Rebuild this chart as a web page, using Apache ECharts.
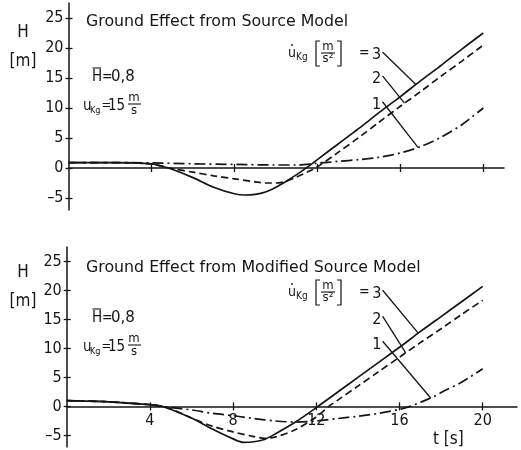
<!DOCTYPE html>
<html>
<head>
<meta charset="utf-8">
<script src="https://cdn.jsdelivr.net/npm/echarts@6/dist/echarts.min.js"></script>
<style>
  html, body { margin: 0; padding: 0; background: #fff; }
  #c { width: 521px; height: 450px; }
</style>
</head>
<body>
<div id="c"></div>
<script>
// Flight height H [m] over time t [s] for three values of the accelerating gust rate (1, 2, 3 m/s²)

const hTicks = [-5, 0, 5, 10, 15, 20, 25];
const tTicks = [4, 8, 12, 16, 20];
const hMin = -7, hMax = 27.5;

// Upper panel: source model
const top3T = [0, 2, 4, 4.6, 5, 6, 7, 8, 8.5, 9, 9.5, 10, 10.5, 11, 11.5, 12, 13, 14, 15, 16, 17, 18, 19, 20];
const top3H = [0.9, 0.9, 0.7, 0.2, -0.2, -1.6, -3.2, -4.3, -4.5, -4.4, -4.0, -3.2, -2.2, -1.1, 0.1, 1.4, 4.0, 6.6, 9.3, 11.9, 14.6, 17.2, 19.9, 22.5];
const top2T = [0, 2, 4, 4.6, 5, 6, 7, 8, 9, 9.5, 10, 10.5, 11, 11.5, 12, 13, 14, 15, 16, 17, 18, 19, 20];
const top2H = [0.9, 0.9, 0.7, 0.2, -0.1, -0.7, -1.3, -1.8, -2.3, -2.5, -2.5, -2.2, -1.5, -0.7, 0.2, 2.6, 5.1, 7.7, 10.3, 12.8, 15.4, 17.9, 20.5];
const top1T = [0, 2, 4, 6, 8, 10, 11, 12, 13, 14, 15, 16, 17, 18, 19, 20];
const top1H = [0.9, 0.9, 0.85, 0.7, 0.6, 0.5, 0.5, 0.8, 1.1, 1.4, 1.8, 2.5, 3.6, 5.2, 7.3, 10.0];

// Lower panel: modified source model
const bot3T = [0, 2, 4, 4.6, 5, 6, 7, 8, 8.5, 9, 9.5, 10, 11, 12, 13, 14, 15, 16, 17, 18, 19, 20];
const bot3H = [1.0, 0.8, 0.3, 0, -0.5, -2.0, -3.9, -5.6, -6.2, -6.1, -5.7, -4.8, -2.7, -0.2, 2.4, 5.0, 7.6, 10.2, 12.9, 15.5, 18.1, 20.7];
const bot2T = [0, 2, 4, 4.6, 5, 6, 7, 8, 9, 9.5, 10, 11, 12, 12.6, 13, 14, 15, 16, 17, 18, 19, 20];
const bot2H = [1.0, 0.8, 0.3, 0, -0.4, -2.0, -3.4, -4.4, -5.2, -5.5, -5.3, -4.0, -1.8, 0, 1.0, 3.5, 6.0, 8.5, 11.0, 13.4, 15.9, 18.3];
const bot1T = [0, 2, 4, 4.6, 5, 6, 7, 8, 9, 10, 11, 12, 13, 14, 15, 16, 16.5, 17, 17.6, 18, 19, 20];
const bot1H = [1.0, 0.8, 0.3, 0, -0.2, -0.6, -1.2, -1.6, -2.1, -2.5, -2.7, -2.5, -2.1, -1.7, -1.2, -0.5, 0, 0.7, 1.6, 2.4, 4.2, 6.5];

// Curve labels 3, 2, 1: where each leader starts, and the time where it meets its curve
const curveNames = ['3', '2', '1'];
const topLeadFrom = [[15.15, 19.3], [15.15, 15.3], [15.15, 11.0]];
const topLeadToT = [16.75, 16.2, 16.85];
const botLeadFrom = [[15.2, 20.0], [15.2, 15.5], [15.2, 11.2]];
const botLeadToT = [16.9, 16.3, 17.5];

const FONT = '"DejaVu Sans Condensed", "DejaVu Sans", sans-serif';
const WIDE = '"DejaVu Sans", sans-serif';
const INK = '#151515';

const pairs = (t, h) => t.map((v, i) => [v, h[i]]);
function interp(t, h, x) {
  for (let i = 1; i < t.length; i++) {
    if (x <= t[i]) {
      const f = (x - t[i - 1]) / (t[i] - t[i - 1]);
      return h[i - 1] + f * (h[i] - h[i - 1]);
    }
  }
  return h[h.length - 1];
}

const dashStyles = ['solid', [7, 4], [11, 4, 2, 4]];

function curve(t, h, k, ax) {
  return {
    type: 'line', xAxisIndex: ax, yAxisIndex: ax, data: pairs(t, h),
    showSymbol: false, smooth: 0.3, silent: true,
    lineStyle: { color: INK, width: 1.7, type: dashStyles[k] }
  };
}
function leaders(from, toT, curves, ax) {
  const out = [];
  from.forEach((p, k) => {
    const c = curves[k];
    out.push({
      type: 'line', xAxisIndex: ax, yAxisIndex: ax, silent: true,
      data: [p, [toT[k], interp(c[0], c[1], toT[k])]],
      showSymbol: false, lineStyle: { color: INK, width: 1.3 }
    });
  });
  out.push({
    type: 'scatter', xAxisIndex: ax, yAxisIndex: ax, silent: true,
    symbolSize: 1, itemStyle: { color: INK, opacity: 1 },
    data: from.map((p, k) => ({ value: p, name: curveNames[k] })),
    label: { show: true, position: 'left', distance: 1, offset: [0, 3], formatter: '{b}',
             color: INK, opacity: 1, fontFamily: FONT, fontSize: 16 }
  });
  return out;
}

// The time axis sits on H = 0: shift it up from the grid bottom by the height of the negative range
function xAxes(grid, max, gridHeight, showLabels) {
  const lift = -gridHeight * (0 - hMin) / (hMax - hMin);
  const base = {
    type: 'value', gridIndex: grid, min: 0, max: max, position: 'bottom', offset: lift,
    splitLine: { show: false }
  };
  return [
    Object.assign({}, base, {
      axisLine: { onZero: false, lineStyle: { color: INK, width: 1.5 } },
      axisTick: { show: true, customValues: tTicks, length: 4, lineStyle: { color: INK, width: 1.3 } },
      axisLabel: showLabels
        ? { customValues: tTicks, color: INK, fontFamily: FONT, fontSize: 16, margin: 6 }
        : { show: false }
    }),
    Object.assign({}, base, {
      axisLine: { show: false, onZero: false },
      axisTick: { show: true, inside: true, customValues: tTicks, length: 4, lineStyle: { color: INK, width: 1.3 } },
      axisLabel: { show: false }
    })
  ];
}
function yAxes(grid) {
  const base = {
    type: 'value', gridIndex: grid, position: 'left', min: hMin, max: hMax,
    splitLine: { show: false }
  };
  return [
    Object.assign({}, base, {
      axisLine: { show: true, onZero: false, lineStyle: { color: INK, width: 1.5 } },
      axisTick: { show: true, customValues: hTicks, length: 3, lineStyle: { color: INK, width: 1.3 } },
      axisLabel: { customValues: hTicks, color: INK, fontFamily: FONT, fontSize: 16, margin: 5,
                   formatter: v => (v < 0 ? '\u2013' + Math.abs(v) : String(v)) }
    }),
    Object.assign({}, base, {
      axisLine: { show: false, onZero: false },
      axisTick: { show: true, inside: true, customValues: hTicks, length: 4, lineStyle: { color: INK, width: 1.3 } },
      axisLabel: { show: false }
    })
  ];
}

// Text blocks around each panel
function txt(x, y, text, size, extra) {
  return {
    type: 'text', x: x, y: y, silent: true,
    style: Object.assign({ text: text, fill: INK, fontFamily: FONT, fontSize: size,
                           align: 'left', verticalAlign: 'middle' }, extra || {})
  };
}
function seg(x1, y1, x2, y2, w) {
  return { type: 'line', silent: true, shape: { x1, y1, x2, y2 },
           style: { stroke: INK, lineWidth: w || 1.2 } };
}
function poly(points) {
  return { type: 'polyline', silent: true, shape: { points },
           style: { stroke: INK, lineWidth: 1.2, fill: null } };
}
function panelText(title, yTitle, yLab, yHbar, yU, yRate) {
  return [
    txt(23, yLab, 'H', 17, { align: 'center' }),
    txt(23, yLab + 29, '[m]', 17, { align: 'center' }),
    txt(86, yTitle, title, 15.8, { fontFamily: WIDE }),
    // H-bar = 0,8
    txt(92, yHbar, 'H', 15),
    seg(92.5, yHbar - 9, 101, yHbar - 9, 1.1),
    txt(102, yHbar, '=', 14),
    txt(111, yHbar, '0,8', 15, { fontFamily: WIDE }),
    // u_Kg = 15 m/s
    txt(83, yU, 'u', 15),
    txt(90, yU + 5, 'Kg', 9),
    txt(101.5, yU, '=', 13),
    txt(108, yU, '15', 15),
    txt(134, yU - 8, 'm', 13, { align: 'center' }),
    seg(128, yU - 2, 141, yU - 2, 1.1),
    txt(134, yU + 5, 's', 13, { align: 'center' }),
    // u-dot_Kg [m/s²] =
    txt(288, yRate, 'u', 14),
    { type: 'circle', silent: true, shape: { cx: 292, cy: yRate - 8, r: 0.9 }, style: { fill: INK } },
    txt(296, yRate + 4, 'Kg', 10),
    poly([[320, yRate - 12], [316, yRate - 12], [316, yRate + 13], [320, yRate + 13]]),
    txt(328, yRate - 6, 'm', 13, { align: 'center' }),
    seg(321, yRate, 335, yRate, 1.1),
    txt(328, yRate + 6, 's\u00B2', 13, { align: 'center' }),
    poly([[337, yRate - 12], [341, yRate - 12], [341, yRate + 13], [337, yRate + 13]]),
    txt(359, yRate, '=', 14)
  ];
}

const chart = echarts.init(document.getElementById('c'), null, { renderer: 'canvas' });

const topCurves = [[top3T, top3H], [top2T, top2H], [top1T, top1H]];
const botCurves = [[bot3T, bot3H], [bot2T, bot2H], [bot1T, bot1H]];

const topGrid = { left: 68.5, top: 3, width: 21 * 20.74, height: 207, outerBoundsMode: 'none', containLabel: false };
const botGrid = { left: 66.7, top: 247, width: 21.65 * 20.8, height: 200, outerBoundsMode: 'none', containLabel: false };

chart.setOption({
  animation: false,
  backgroundColor: '#fff',
  grid: [topGrid, botGrid],
  xAxis: [].concat(xAxes(0, 21, topGrid.height, false), xAxes(1, 21.65, botGrid.height, true)),
  yAxis: [].concat(yAxes(0), yAxes(1)),
  series: [].concat(
    topCurves.map((c, k) => curve(c[0], c[1], k, 0)),
    leaders(topLeadFrom, topLeadToT, topCurves, 0),
    botCurves.map((c, k) => curve(c[0], c[1], k, 2)),
    leaders(botLeadFrom, botLeadToT, botCurves, 2)
  ),
  graphic: [].concat(
    panelText('Ground Effect from Source Model', 22, 33, 77, 106, 53),
    panelText('Ground Effect from Modified Source Model', 268, 273, 318, 347, 292),
    [txt(433, 440, 't [s]', 17)]
  )
});
</script>
</body>
</html>
